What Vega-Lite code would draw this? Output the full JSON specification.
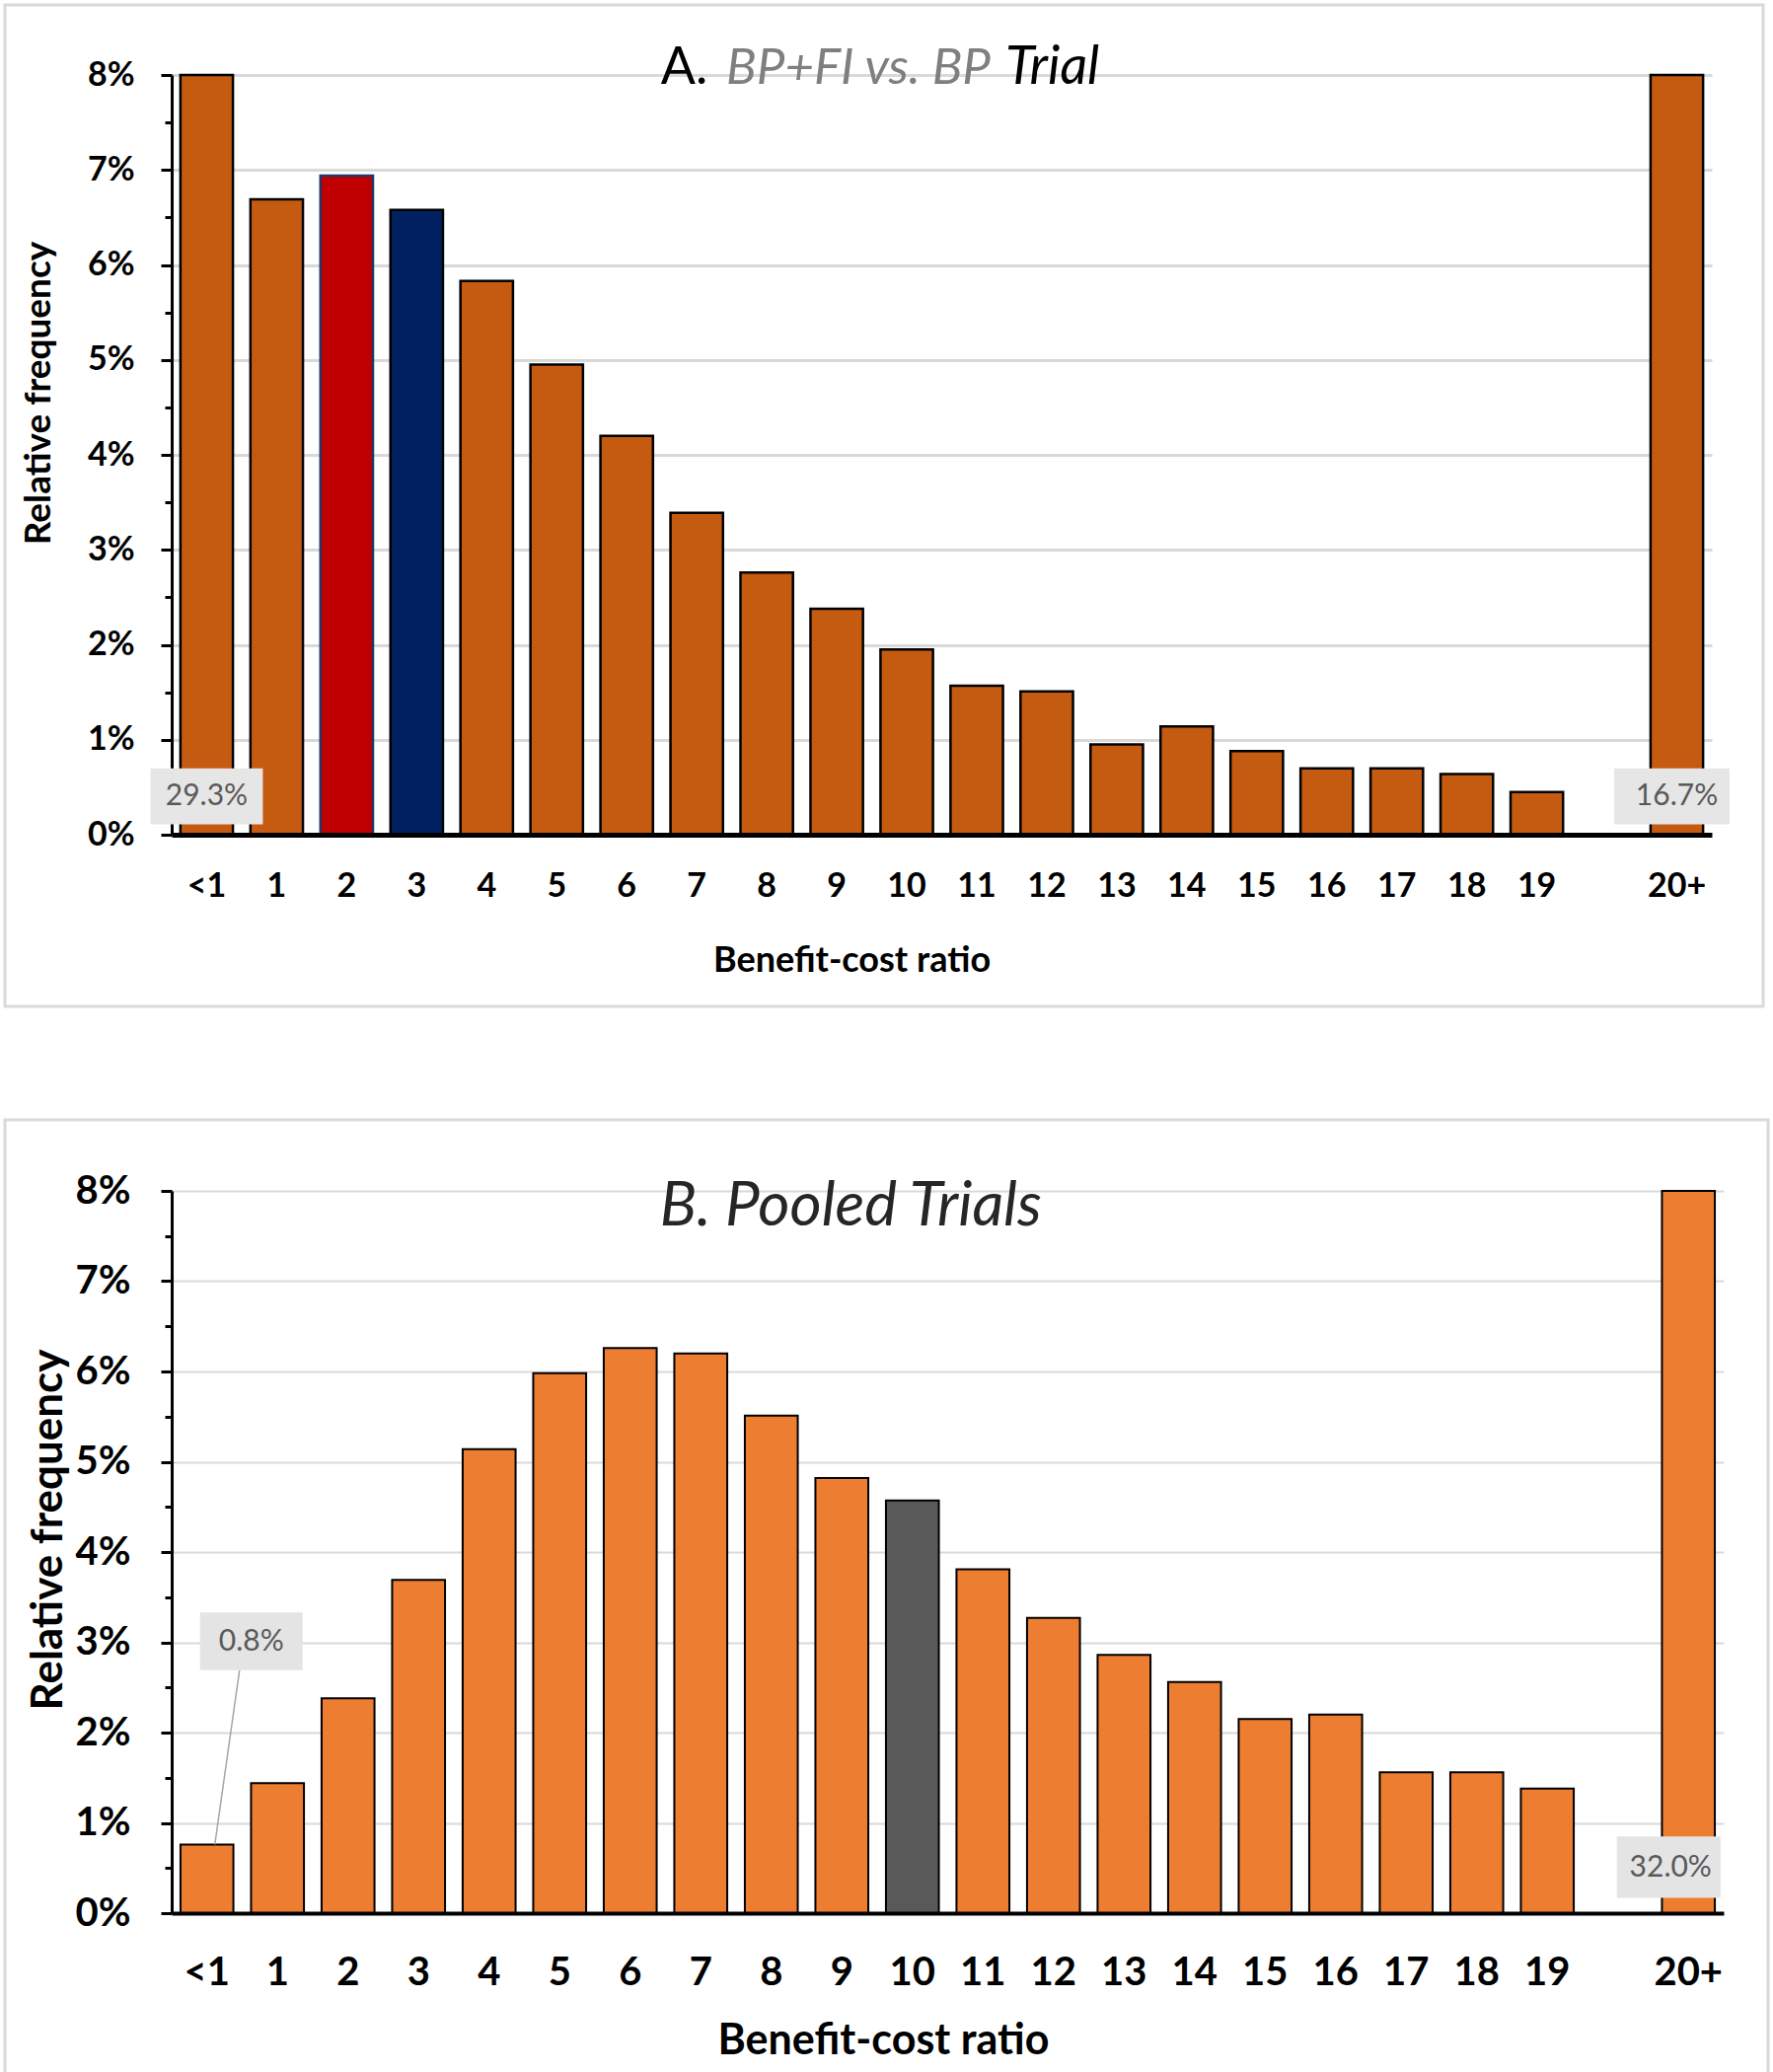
{
  "$schema": "https://vega.github.io/schema/vega-lite/v6.json",
  "padding": {"left": 3, "top": 3, "right": 0, "bottom": 0},
  "background": "white",
  "spacing": 111,
  "config": {"view": {"stroke": "#D9D9D9", "strokeWidth": 3}, "font": "Lato"},
  "datasets": {
    "a": [
      {"cat": "<1", "value": 0.293},
      {"cat": "1", "value": 0.0669},
      {"cat": "2", "value": 0.0694},
      {"cat": "3", "value": 0.0658},
      {"cat": "4", "value": 0.0583},
      {"cat": "5", "value": 0.0495},
      {"cat": "6", "value": 0.0420},
      {"cat": "7", "value": 0.0339},
      {"cat": "8", "value": 0.0276},
      {"cat": "9", "value": 0.0238},
      {"cat": "10", "value": 0.0195},
      {"cat": "11", "value": 0.0157},
      {"cat": "12", "value": 0.0151},
      {"cat": "13", "value": 0.0095},
      {"cat": "14", "value": 0.0114},
      {"cat": "15", "value": 0.0088},
      {"cat": "16", "value": 0.0070},
      {"cat": "17", "value": 0.0070},
      {"cat": "18", "value": 0.0064},
      {"cat": "19", "value": 0.0045},
      {"cat": "20+", "value": 0.167}
    ],
    "b": [
      {"cat": "<1", "value": 0.0076},
      {"cat": "1", "value": 0.0144},
      {"cat": "2", "value": 0.0238},
      {"cat": "3", "value": 0.0369},
      {"cat": "4", "value": 0.0514},
      {"cat": "5", "value": 0.0598},
      {"cat": "6", "value": 0.0626},
      {"cat": "7", "value": 0.0620},
      {"cat": "8", "value": 0.0551},
      {"cat": "9", "value": 0.0482},
      {"cat": "10", "value": 0.0457},
      {"cat": "11", "value": 0.0381},
      {"cat": "12", "value": 0.0327},
      {"cat": "13", "value": 0.0286},
      {"cat": "14", "value": 0.0256},
      {"cat": "15", "value": 0.0215},
      {"cat": "16", "value": 0.0220},
      {"cat": "17", "value": 0.0156},
      {"cat": "18", "value": 0.0156},
      {"cat": "19", "value": 0.0138},
      {"cat": "20+", "value": 0.320}
    ]
  },
  "vconcat": [
    {
      "width": 1782,
      "height": 1015,
      "data": {"name": "a"},
      "encoding": {
        "x": {
          "field": "cat", "type": "ordinal", "sort": null,
          "scale": {"domain": ["<1","1","2","3","4","5","6","7","8","9","10","11","12","13","14","15","16","17","18","19","gap","20+"], "range": [169, 1730], "paddingInner": 0.25, "paddingOuter": 0.125},
          "axis": {
            "labelExpr": "datum.label == 'gap' ? '' : datum.label",
            "labelAngle": 0, "ticks": false, "grid": false,
            "domainColor": "black", "domainWidth": 5,
            "labelFont": "Lato", "labelFontSize": 34, "labelFontWeight": "bold", "labelColor": "black", "labelPadding": 35,
            "title": "Benefit-cost ratio", "titleFont": "Lato", "titleFontSize": 36, "titleFontWeight": "bold", "titleColor": "black",
            "titleX": 858, "titleY": 127, "titleBaseline": "middle", "titleAlign": "center",
            "offset": -174, "zindex": 1
          }
        },
        "y": {
          "field": "value", "type": "quantitative",
          "scale": {"domain": [0, 0.08], "range": [841, 71], "clamp": true, "nice": false, "zero": true},
          "axis": {
            "values": [0,0.005,0.01,0.015,0.02,0.025,0.03,0.035,0.04,0.045,0.05,0.055,0.06,0.065,0.07,0.075,0.08],
            "labelExpr": "round(datum.value*200)%2==0 ? format(datum.value, '.0%') : ''",
            "labelOverlap": false, "labelFlush": false,
            "labelFont": "Lato", "labelFontSize": 34, "labelFontWeight": "bold", "labelColor": "black", "labelPadding": 27,
            "tickColor": "black", "tickWidth": 3,
            "tickSize": {"condition": {"test": "round(datum.value*200)%2==0", "value": 11}, "value": 7},
            "domainColor": "black", "domainWidth": 3,
            "grid": true, "gridColor": "#D9D9D9", "gridWidth": 3,
            "gridOpacity": {"condition": {"test": "round(datum.value*200)%2==0 && datum.value > 0", "value": 1}, "value": 0},
            "title": "Relative frequency", "titleFont": "Lato", "titleFontSize": 37, "titleFontWeight": "bold", "titleColor": "black",
            "titleX": -135, "titleY": 393, "titleAngle": -90, "titleBaseline": "middle", "titleAlign": "center",
            "offset": -169
          }
        }
      },
      "layer": [
        {
          "mark": {"type": "bar", "strokeWidth": 2.5},
          "encoding": {
            "color": {"condition": [{"test": "datum.cat == '2'", "value": "#C00000"}, {"test": "datum.cat == '3'", "value": "#002060"}], "value": "#C55A11"},
            "stroke": {"condition": {"test": "datum.cat == '2'", "value": "#1F3864"}, "value": "black"}
          }
        },
        {
          "transform": [{"filter": "datum.cat == '<1'"}],
          "mark": {"type": "bar", "fill": "#E7E6E6", "width": {"band": 2.14}},
          "encoding": {"y": {"datum": 0.0070}, "y2": {"datum": 0.0011}}
        },
        {
          "transform": [{"filter": "datum.cat == '20+'"}],
          "mark": {"type": "bar", "fill": "#E7E6E6", "width": {"band": 2.2}, "xOffset": -5},
          "encoding": {"y": {"datum": 0.0070}, "y2": {"datum": 0.0011}}
        },
        {
          "transform": [{"filter": "datum.cat == '<1' || datum.cat == '20+'"}],
          "mark": {"type": "text", "font": "Lato", "fontSize": 30, "color": "#595959", "baseline": "middle", "align": "center"},
          "encoding": {"y": {"datum": 0.0041}, "text": {"field": "value", "format": ".1%"}}
        },
        {
          "transform": [{"filter": "datum.cat == '7'"}],
          "mark": {"type": "text", "text": "A.", "font": "Lato", "fontSize": 52, "color": "black", "align": "right", "baseline": "alphabetic", "dx": 11},
          "encoding": {"y": {"datum": 0.0791}}
        },
        {
          "transform": [{"filter": "datum.cat == '9'"}],
          "mark": {"type": "text", "text": "BP+FI vs. BP", "font": "Lato", "fontSize": 51, "fontStyle": "italic", "color": "#7F7F7F", "align": "center", "baseline": "alphabetic", "dx": 22},
          "encoding": {"y": {"datum": 0.0791}}
        },
        {
          "transform": [{"filter": "datum.cat == '11'"}],
          "mark": {"type": "text", "text": "Trial", "font": "Lato", "fontSize": 54, "fontStyle": "italic", "color": "black", "align": "left", "baseline": "alphabetic", "dx": 29},
          "encoding": {"y": {"datum": 0.0791}}
        }
      ]
    },
    {
      "width": 1787,
      "height": 968,
      "data": {"name": "b"},
      "encoding": {
        "x": {
          "field": "cat", "type": "ordinal", "sort": null,
          "scale": {"domain": ["<1","1","2","3","4","5","6","7","8","9","10","11","12","13","14","15","16","17","18","19","gap","20+"], "range": [169, 1742], "paddingInner": 0.25, "paddingOuter": 0.125},
          "axis": {
            "labelExpr": "datum.label == 'gap' ? '' : datum.label",
            "labelAngle": 0, "ticks": false, "grid": false,
            "domainColor": "black", "domainWidth": 4,
            "labelFont": "Lato", "labelFontSize": 40, "labelFontWeight": "bold", "labelColor": "black", "labelPadding": 40,
            "title": "Benefit-cost ratio", "titleFont": "Lato", "titleFontSize": 43, "titleFontWeight": "bold", "titleColor": "black",
            "titleX": 890, "titleY": 129, "titleBaseline": "middle", "titleAlign": "center",
            "offset": -164, "zindex": 1
          }
        },
        "y": {
          "field": "value", "type": "quantitative",
          "scale": {"domain": [0, 0.08], "range": [804, 72], "clamp": true, "nice": false, "zero": true},
          "axis": {
            "values": [0,0.005,0.01,0.015,0.02,0.025,0.03,0.035,0.04,0.045,0.05,0.055,0.06,0.065,0.07,0.075,0.08],
            "labelExpr": "round(datum.value*200)%2==0 ? format(datum.value, '.0%') : ''",
            "labelOverlap": false, "labelFlush": false,
            "labelFont": "Lato", "labelFontSize": 40, "labelFontWeight": "bold", "labelColor": "black", "labelPadding": 31,
            "tickColor": "black", "tickWidth": 3,
            "tickSize": {"condition": {"test": "round(datum.value*200)%2==0", "value": 11}, "value": 7},
            "domainColor": "black", "domainWidth": 3,
            "grid": true, "gridColor": "#D9D9D9", "gridWidth": 2,
            "gridOpacity": {"condition": {"test": "round(datum.value*200)%2==0 && datum.value > 0", "value": 1}, "value": 0},
            "title": "Relative frequency", "titleFont": "Lato", "titleFontSize": 44, "titleFontWeight": "bold", "titleColor": "black",
            "titleX": -125, "titleY": 415, "titleAngle": -90, "titleBaseline": "middle", "titleAlign": "center",
            "offset": -169
          }
        }
      },
      "layer": [
        {
          "mark": {"type": "bar", "strokeWidth": 2, "stroke": "black"},
          "encoding": {
            "color": {"condition": {"test": "datum.cat == '10'", "value": "#595959"}, "value": "#ED7D31"}
          }
        },
        {
          "transform": [{"filter": "datum.cat == '<1'"}],
          "mark": {"type": "rule", "color": "#A6A6A6", "strokeWidth": 1.5, "xOffset": 8, "x2Offset": 33},
          "encoding": {"x2": {"datum": "<1"}, "y": {"datum": 0.0076}, "y2": {"datum": 0.0269}}
        },
        {
          "transform": [{"filter": "datum.cat == '<1'"}],
          "mark": {"type": "bar", "fill": "#E4E4E4", "width": {"band": 1.94}, "xOffset": 45},
          "encoding": {"y": {"datum": 0.0333}, "y2": {"datum": 0.0269}}
        },
        {
          "transform": [{"filter": "datum.cat == '20+'"}],
          "mark": {"type": "bar", "fill": "#E4E4E4", "width": {"band": 1.96}, "xOffset": -20},
          "encoding": {"y": {"datum": 0.0085}, "y2": {"datum": 0.0017}}
        },
        {
          "transform": [{"filter": "datum.cat == '<1'"}],
          "mark": {"type": "text", "font": "Lato", "fontSize": 30, "color": "#595959", "baseline": "middle", "align": "center", "dx": 45},
          "encoding": {"y": {"datum": 0.0301}, "text": {"field": "value", "format": ".1%"}}
        },
        {
          "transform": [{"filter": "datum.cat == '20+'"}],
          "mark": {"type": "text", "font": "Lato", "fontSize": 30, "color": "#595959", "baseline": "middle", "align": "center", "dx": -18},
          "encoding": {"y": {"datum": 0.0050}, "text": {"field": "value", "format": ".1%"}}
        },
        {
          "transform": [{"filter": "datum.cat == '9'"}],
          "mark": {"type": "text", "text": "B. Pooled Trials", "font": "Lato", "fontSize": 62, "fontStyle": "italic", "color": "#262626", "align": "center", "baseline": "alphabetic", "dx": 9},
          "encoding": {"y": {"datum": 0.0762}}
        }
      ]
    }
  ]
}
